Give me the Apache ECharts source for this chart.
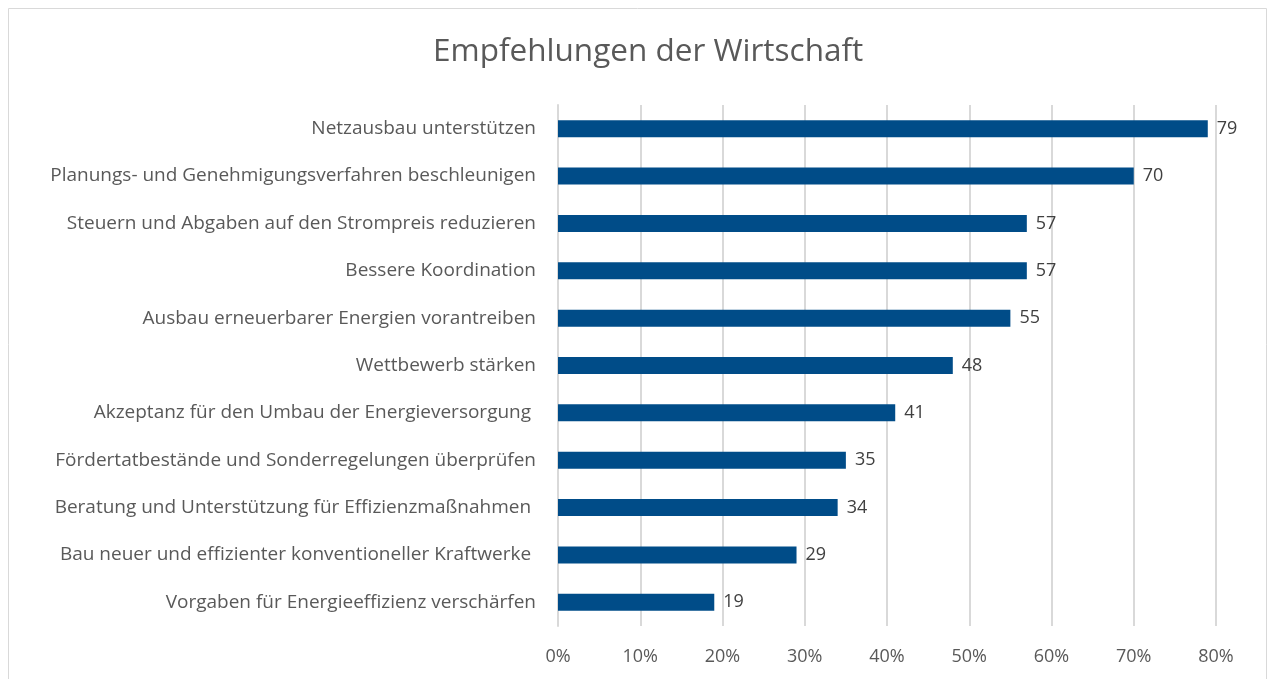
<!DOCTYPE html>
<html>
<head>
<meta charset="utf-8">
<script src="https://cdn.jsdelivr.net/npm/echarts@6/dist/echarts.min.js"></script>
<style>
  html, body { margin: 0; padding: 0; background: #fff; }
  #chart { width: 1269px; height: 679px; }
</style>
</head>
<body>
<div id="chart"></div>
<script>
// categories top to bottom as shown
const categories = [
  'Netzausbau unterstützen',
  'Planungs- und Genehmigungsverfahren beschleunigen',
  'Steuern und Abgaben auf den Strompreis reduzieren',
  'Bessere Koordination',
  'Ausbau erneuerbarer Energien vorantreiben',
  'Wettbewerb stärken',
  'Akzeptanz für den Umbau der Energieversorgung ',
  'Fördertatbestände und Sonderregelungen überprüfen',
  'Beratung und Unterstützung für Effizienzmaßnahmen ',
  'Bau neuer und effizienter konventioneller Kraftwerke ',
  'Vorgaben für Energieeffizienz verschärfen'
]
const values = [79, 70, 57, 57, 55, 48, 41, 35, 34, 29, 19]
const xTicks = [0, 10, 20, 30, 40, 50, 60, 70, 80]

const fontFamily = '"Open Sans", "Noto Sans", sans-serif'
const textColor = '#595959'

const chart = echarts.init(document.getElementById('chart'))

const option = {
  animation: false,
  title: {
    text: 'Empfehlungen der Wirtschaft',
    left: 428,
    top: 31,
    textStyle: {
      fontFamily,
      fontSize: 31.5,
      fontWeight: 'normal',
      color: textColor
    }
  },
  graphic: [
    {
      type: 'rect',
      shape: { x: 8.5, y: 8.5, width: 1258, height: 700 },
      style: { fill: 'none', stroke: '#d9d9d9', lineWidth: 1 },
      silent: true
    }
  ],
  grid: {
    left: 558,
    right: 53,
    top: 105,
    bottom: 53,
    containLabel: false
  },
  xAxis: {
    type: 'value',
    min: xTicks[0],
    max: xTicks[xTicks.length - 1],
    interval: 10,
    axisLine: { show: false },
    axisTick: { show: false },
    splitLine: { lineStyle: { color: '#d9d9d9', width: 2 } },
    axisLabel: {
      formatter: v => v + '%',
      fontFamily,
      fontSize: 18,
      color: textColor,
      margin: 22
    }
  },
  yAxis: {
    type: 'category',
    inverse: true,
    data: categories,
    axisLine: { show: true, lineStyle: { color: '#d9d9d9', width: 2 } },
    axisTick: { show: false },
    axisLabel: {
      fontFamily,
      fontSize: 19,
      color: textColor,
      margin: 22
    }
  },
  series: [
    {
      type: 'bar',
      data: values,
      barWidth: 17,
      itemStyle: { color: '#004C88' },
      label: {
        show: true,
        position: 'right',
        distance: 9,
        fontFamily,
        fontSize: 18,
        color: '#404040'
      }
    }
  ]
}

chart.setOption(option)
</script>
</body>
</html>
